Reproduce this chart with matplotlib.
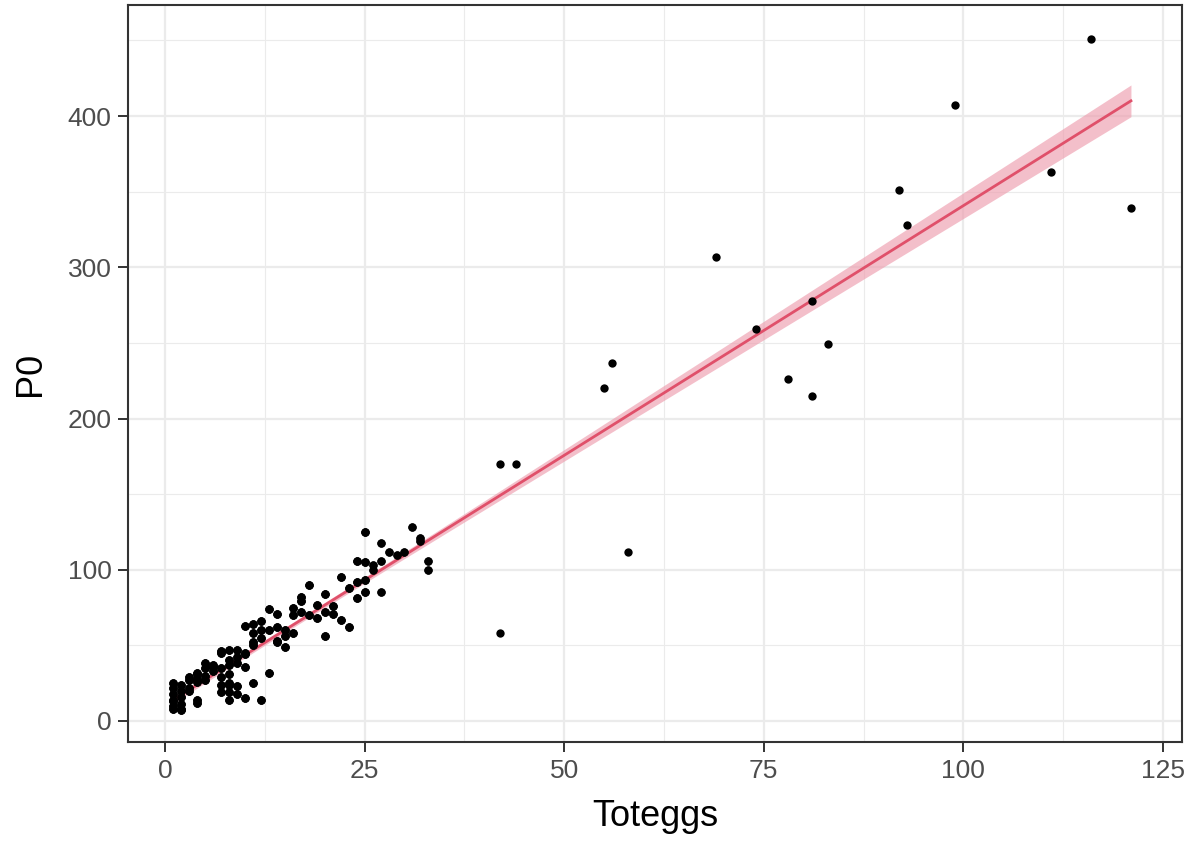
import numpy as np
import matplotlib
matplotlib.use("Agg")
import matplotlib.pyplot as plt
from matplotlib.ticker import MultipleLocator

plt.rcParams['font.family'] = ['Liberation Sans', 'DejaVu Sans']

# Data: Toteggs (x) and P0 (y); the dense low cluster has many overlapping
# observations, so each visible point carries an estimated multiplicity.
low_x = [1]*7 + [2]*6 + [3]*4 + [4]*6 + [5]*4 + [6]*3 + [7]*6 + [8]*8 + [9]*5 + [10]*5 + \
        [11]*5 + [12]*4 + [13]*3 + [14]*4 + [15]*3 + [16]*3 + [17]*3 + [18]*2 + [19]*2 + \
        [20]*3 + [21]*2 + [22]*2 + [23]*2 + [24]*3 + [25]*4 + [26]*2 + [27]*3 + [28, 29, 30, 31] + \
        [32]*2 + [33]*2
low_y = [22, 25, 14, 8, 13, 18, 10,
         24, 8, 7, 11, 20, 16,
         27, 29, 20, 22,
         32, 31, 14, 12, 26, 28,
         35, 38, 30, 27,
         37, 33, 36,
         46, 45, 29, 19, 24, 35,
         47, 31, 25, 19, 14, 24, 37, 40,
         42, 47, 23, 18, 38,
         45, 63, 15, 36, 44,
         58, 64, 25, 50, 52,
         66, 14, 60, 55,
         74, 32, 60,
         71, 62, 53, 52,
         60, 49, 56,
         75, 70, 58,
         82, 79, 72,
         90, 70,
         77, 68,
         84, 72, 56,
         71, 76,
         95, 67,
         88, 62,
         92, 81, 106,
         125, 93, 85, 105,
         103, 100,
         118, 106, 85,
         112, 110, 112, 128,
         121, 119,
         106, 100]
low_count = [3]*99 + [2]*(len(low_x) - 99)
high_x = [42, 44, 42, 55, 56, 58, 69, 74, 78, 81, 81, 83, 92, 93, 99, 111, 116, 121]
high_y = [170, 170, 58, 220, 237, 112, 307, 259, 226, 278, 215, 249, 351, 328, 407, 363, 451, 339]

toteggs = np.array(list(np.repeat(low_x, low_count)) + high_x, dtype=float)
p0 = np.array(list(np.repeat(low_y, low_count)) + high_y, dtype=float)

x_ticks = [0, 25, 50, 75, 100, 125]
y_ticks = [0, 100, 200, 300, 400]

# Linear fit with 95% CI (geom_smooth(method = "lm") style)
n = len(toteggs)
X = np.column_stack([np.ones(n), toteggs])
beta, *_ = np.linalg.lstsq(X, p0, rcond=None)
resid = p0 - X @ beta
s2 = resid @ resid / (n - 2)
XtX_inv = np.linalg.inv(X.T @ X)
xs = np.linspace(toteggs.min(), toteggs.max(), 80)
Xs = np.column_stack([np.ones_like(xs), xs])
fit = Xs @ beta
se = np.sqrt(s2 * np.einsum('ij,jk,ik->i', Xs, XtX_inv, Xs))
tval = 1.97
lo, hi = fit - tval * se, fit + tval * se

fig = plt.figure(figsize=(11.9, 8.42), dpi=100)
ax = fig.add_axes([0.1076, 0.1188, 0.8857, 0.8752])

ax.fill_between(xs, lo, hi, color='#EE9DAE', alpha=0.65, linewidth=0, zorder=2)
ax.plot(xs, fit, color='#E0506A', linewidth=2.0, zorder=3)
ax.scatter(toteggs, p0, s=36, color='black', marker='o', linewidths=0, zorder=4)

ax.set_xlim(-4.63, 127.4)
ax.set_ylim(-13.9, 473.4)
ax.set_xticks(x_ticks)
ax.set_yticks(y_ticks)
ax.xaxis.set_minor_locator(MultipleLocator(12.5))
ax.yaxis.set_minor_locator(MultipleLocator(50))
ax.grid(which='major', color='#EBEBEB', linewidth=1.6, zorder=0)
ax.grid(which='minor', color='#EBEBEB', linewidth=0.8, zorder=0)
ax.set_axisbelow(True)
for sp in ax.spines.values():
    sp.set_color('#333333')
    sp.set_linewidth(1.5)
ax.tick_params(which='major', length=7, width=1.4, color='#333333', labelcolor='#4D4D4D',
               labelsize=19, pad=5)
ax.tick_params(which='minor', length=0)
ax.set_xlabel('Toteggs', fontsize=26, color='black', labelpad=12)
ax.set_ylabel('P0', fontsize=26, color='black', labelpad=14)

fig.savefig('out.png', dpi=100)
